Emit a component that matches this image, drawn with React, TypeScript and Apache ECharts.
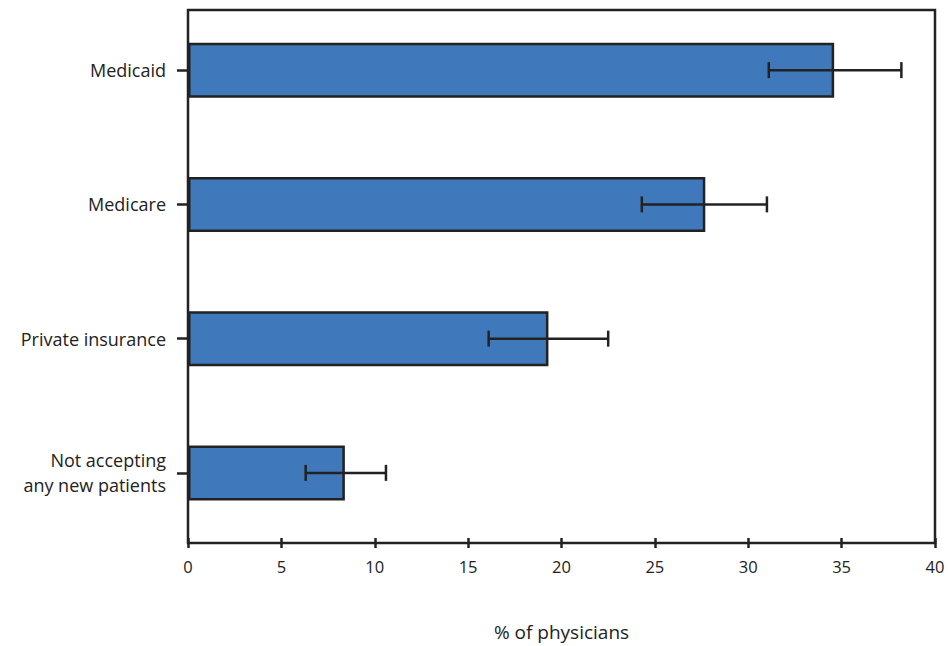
import React, { useEffect, useRef } from "react";
import * as echarts from "echarts";

const categories = ["Medicaid", "Medicare", "Private insurance", "Not accepting\nany new patients"];
const values = [34.6, 27.7, 19.3, 8.4];
const lower = [31.1, 24.3, 16.1, 6.3];
const upper = [38.2, 31.0, 22.5, 10.6];

export default function App() {
  const ref = useRef<HTMLDivElement>(null);
  useEffect(() => {
    const chart = echarts.init(ref.current!, undefined, { renderer: "svg" });
    const font = "Open Sans";
    chart.setOption({
      animation: false,
      textStyle: { fontFamily: font },
      grid: { left: 188, right: 13, top: 3, bottom: 105 },
      xAxis: {
        type: "value", min: 0, max: 40, interval: 5, offset: -2,
        name: "% of physicians", nameLocation: "middle", nameGap: 84,
        nameTextStyle: { fontSize: 19, color: "#222", fontFamily: font },
        axisLine: { show: false },
        axisTick: { show: true, length: 10, lineStyle: { color: "#222", width: 2.5 } },
        axisLabel: { fontSize: 16.5, color: "#222", margin: 20, fontFamily: font },
        splitLine: { show: false },
      },
      yAxis: {
        type: "category", data: categories, inverse: true,
        axisLine: { show: false },
        axisTick: { show: true, alignWithLabel: true, length: 11, lineStyle: { color: "#222", width: 2.5 } },
        axisLabel: { fontSize: 18, color: "#222", margin: 22, lineHeight: 25, fontFamily: font },
      },
      graphic: [{
        type: "rect", shape: { x: 188, y: 10, width: 747, height: 533 },
        style: { fill: "none", stroke: "#222", lineWidth: 2.5 }, z: 10,
      }],
      series: [
        {
          type: "bar", data: values, barWidth: 55,
          itemStyle: { color: "#3f79bb", borderColor: "#222", borderWidth: 2.5 },
        },
        {
          type: "custom", z: 5,
          data: categories.map((_, i) => [i, lower[i], upper[i]]),
          renderItem: (params: any, api: any) => {
            const i = api.value(0);
            const p1 = api.coord([api.value(1), i]);
            const p2 = api.coord([api.value(2), i]);
            const h = 16;
            const st = { stroke: "#222", lineWidth: 2.5 };
            return {
              type: "group", children: [
                { type: "line", shape: { x1: p1[0], y1: p1[1], x2: p2[0], y2: p2[1] }, style: st },
                { type: "line", shape: { x1: p1[0], y1: p1[1] - h / 2, x2: p1[0], y2: p1[1] + h / 2 }, style: st },
                { type: "line", shape: { x1: p2[0], y1: p2[1] - h / 2, x2: p2[0], y2: p2[1] + h / 2 }, style: st },
              ],
            };
          },
        },
      ],
    });
    return () => chart.dispose();
  }, []);
  return <div ref={ref} style={{ position: "absolute", left: 0, top: 0, width: 948, height: 646 }} />;
}
